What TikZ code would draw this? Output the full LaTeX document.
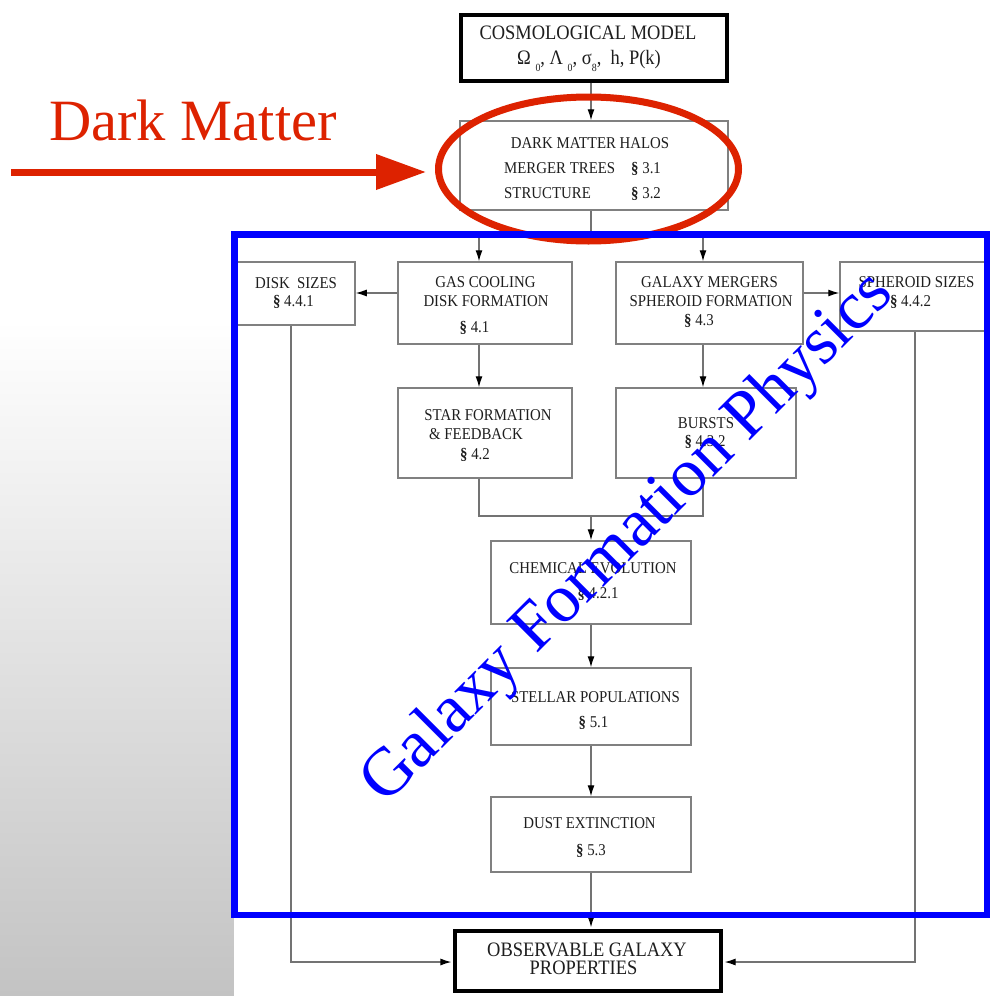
\documentclass[tikz,border=0pt]{standalone}
\usepackage{fontspec}
\setmainfont{Liberation Serif}
\newfontfamily\dfont[FakeStretch=0.9]{Liberation Serif}
\usetikzlibrary{arrows.meta}
\definecolor{dmred}{RGB}{221,34,0}
\definecolor{gfblue}{RGB}{0,0,255}
\definecolor{boxline}{RGB}{128,128,128}
\definecolor{conn}{RGB}{115,115,115}
\definecolor{ink}{RGB}{30,30,30}
\definecolor{bggrey}{RGB}{195,195,195}
\newcommand{\sect}{{\bfseries §}}
\newcommand{\lowsub}[1]{\raisebox{-0.35em}{\fontsize{11}{11}\selectfont #1}}
\tikzset{
  box/.style={draw=boxline, line width=1.5pt, inner sep=0pt},
  thickbox/.style={draw=black, line width=3.6pt, inner sep=0pt},
  txt/.style={anchor=base, inner sep=0pt, text=ink, font=\dfont\fontsize{16.5}{18}\selectfont},
  bigtxt/.style={anchor=base, inner sep=0pt, text=ink, font=\dfont\fontsize{20.5}{22}\selectfont},
  wire/.style={draw=conn, line width=1.2pt},
  arr/.style={wire, -{Latex[length=11pt,width=7pt,color=black]}},
  redline/.style={draw=dmred, line width=7pt},
  blueline/.style={draw=gfblue, line width=6.5pt},
}
\begin{document}
\begin{tikzpicture}[x=1pt,y=-1pt]
\useasboundingbox (0,0) rectangle (990,996);
\fill[white] (0,0) rectangle (990,996);
\shade[top color=white, bottom color=bggrey] (0,320) rectangle (234,996);
\fill[white] (234,918) rectangle (990,996);

% boxes
\node[thickbox, minimum width=266pt, minimum height=66pt] (cosmo) at (594,47.8) {};
\node[box, minimum width=268pt, minimum height=89pt] (dm) at (594,165.5) {};
\node[box, minimum width=119pt, minimum height=63pt] (disk) at (295.5,293.5) {};
\node[box, minimum width=174pt, minimum height=82pt] (gas) at (485,303) {};
\node[box, minimum width=187pt, minimum height=82pt] (gm) at (709.5,303) {};
\node[box, minimum width=148pt, minimum height=69pt] (sph) at (914,296.5) {};
\node[box, minimum width=174pt, minimum height=90pt] (sf) at (485,433) {};
\node[box, minimum width=180pt, minimum height=90pt] (bursts) at (706,433) {};
\node[box, minimum width=200pt, minimum height=83pt] (chem) at (591,582.5) {};
\node[box, minimum width=200pt, minimum height=77pt] (stellar) at (591,706.5) {};
\node[box, minimum width=200pt, minimum height=75pt] (dust) at (591,834.5) {};
\node[thickbox, minimum width=266pt, minimum height=60pt] (obs) at (588,961) {};

% helper coordinates
\coordinate (cx) at (591,0);
\coordinate (lx) at (479,0);
\coordinate (rx) at (703,0);
\coordinate (split) at (591,235);
\coordinate (row) at (0,293);
\coordinate (merge) at (591,516);
\coordinate (dlx) at (291,0);
\coordinate (srx) at (915,0);
\coordinate (obrow) at (0,962);

% connectors
\draw[arr] (cosmo.south -| cx) -- (dm.north -| cx);
\draw[wire] (dm.south -| cx) -- (split);
\draw[arr] (split) -| (lx |- gas.north);
\draw[arr] (split) -| (rx |- gm.north);
\draw[arr] (gas.west |- row) -- (disk.east |- row);
\draw[arr] (gm.east |- row) -- (sph.west |- row);
\draw[arr] (lx |- gas.south) -- (lx |- sf.north);
\draw[arr] (rx |- gm.south) -- (rx |- bursts.north);
\draw[wire] (lx |- sf.south) -- (lx |- merge) -- (rx |- merge) -- (rx |- bursts.south);
\draw[arr] (merge) -- (chem.north -| merge);
\draw[arr] (chem.south -| cx) -- (stellar.north -| cx);
\draw[arr] (stellar.south -| cx) -- (dust.north -| cx);
\draw[arr] (dust.south -| cx) -- ([yshift=1.8pt]obs.north -| cx);
\draw[arr] (dlx |- disk.south) |- ([xshift=-1.8pt]obs.west |- obrow);
\draw[arr] (srx |- sph.south) |- ([xshift=1.8pt]obs.east |- obrow);

% texts
\node[bigtxt] (t1) at (588,39) {COSMOLOGICAL MODEL};
\node[bigtxt] (t2) at (589,64) {Ω \lowsub{0}, Λ \lowsub{0}, σ\lowsub{8},\ \ h, P(k)};
\node[txt] (t3) at (590,148) {DARK MATTER HALOS};
\node[txt, anchor=base west] (t4) at (504,173) {MERGER TREES};
\node[txt, anchor=base west] (t5) at (631,173) {\sect{} 3.1};
\node[txt, anchor=base west] (t6) at (504,198) {STRUCTURE};
\node[txt, anchor=base west] (t7) at (631,198) {\sect{} 3.2};
\node[txt] (t8) at (296,288) {DISK\ \ SIZES};
\node[txt] (t9) at (293.5,306) {\sect{} 4.4.1};
\node[txt] (t10) at (485.5,287) {GAS COOLING};
\node[txt] (t11) at (486,306) {DISK FORMATION};
\node[txt] (t12) at (474.5,332) {\sect{} 4.1};
\node[txt] (t13) at (488,420) {STAR FORMATION};
\node[txt] (t14) at (476,439) {\& FEEDBACK};
\node[txt] (t15) at (475,459) {\sect{} 4.2};
\node[txt] (t16) at (709.5,287) {GALAXY MERGERS};
\node[txt] (t17) at (711,306) {SPHEROID FORMATION};
\node[txt] (t18) at (699,325) {\sect{} 4.3};
\node[txt] (t19) at (916.5,287) {SPHEROID SIZES};
\node[txt] (t20) at (910.5,306) {\sect{} 4.4.2};
\node[txt] (t21) at (706,428) {BURSTS};
\node[txt] (t22) at (705,446) {\sect{} 4.3.2};
\node[txt] (t23) at (593,573) {CHEMICAL EVOLUTION};
\node[txt] (t24) at (598,598) {\sect{} 4.2.1};
\node[txt] (t25) at (595.5,702) {STELLAR POPULATIONS};
\node[txt] (t26) at (593.5,727) {\sect{} 5.1};
\node[txt] (t27) at (589.5,828) {DUST EXTINCTION};
\node[txt] (t28) at (591,855) {\sect{} 5.3};
\node[bigtxt] (t29) at (587,956) {OBSERVABLE GALAXY};
\node[bigtxt] (t30) at (583.5,974) {PROPERTIES};

% red annotation
\draw[redline] (588.5,169) ellipse [x radius=150pt, y radius=72pt];
\coordinate (rs) at (11,172);
\coordinate (re) at (426,172);
\draw[redline, -{Triangle[length=50pt,width=34pt]}] (rs) -- (re);
\node[anchor=base west, inner sep=0pt, text=dmred, font=\fontsize{58.5}{60}\selectfont] (dmlabel) at (49,140) {Dark Matter};

% blue annotation
\draw[blueline] (234.5,234.5) rectangle (987,915);
\node[rotate=45, anchor=base west, inner sep=0pt, text=gfblue, font=\fontsize{68}{68}\selectfont] (gfp) at (385,806) {Galaxy Formation Physics};
\end{tikzpicture}
\end{document}
